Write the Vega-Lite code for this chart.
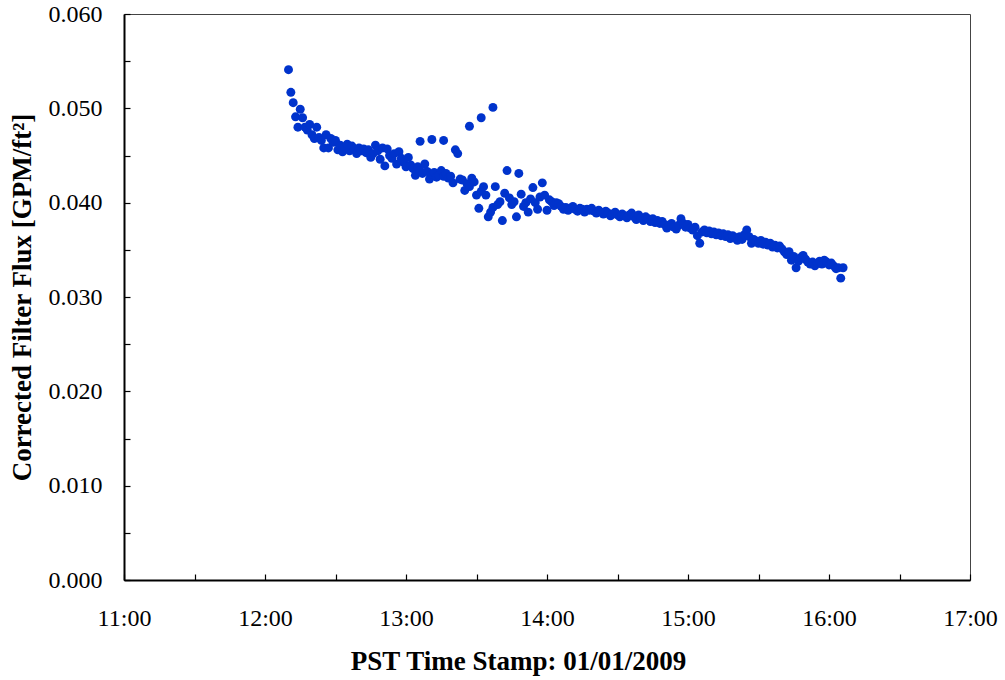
{
  "$schema": "https://vega.github.io/schema/vega-lite/v6.json",
  "width": 846,
  "height": 566,
  "autosize": {"type": "none"},
  "padding": {"left": 124, "top": 14, "right": 35, "bottom": 100},
  "background": "white",
  "config": {
    "font": "Liberation Serif",
    "view": {"stroke": "#444", "strokeWidth": 1},
    "axis": {"grid": false, "labelFont": "Liberation Serif", "titleFont": "Liberation Serif", "labelColor": "black", "titleColor": "black", "domainColor": "black", "domainWidth": 2, "tickColor": "black", "tickWidth": 1.2, "tickSize": -6, "labelFontSize": 24, "titleFontSize": 27, "titleFontWeight": "bold"}
  },
  "data": {
    "format": {"parse": {"time": "date:'%H:%M'"}},
    "values": [
      {"time": "12:10", "flux": 0.0541}, {"time": "12:11", "flux": 0.0517}, {"time": "12:12", "flux": 0.0506},
      {"time": "12:13", "flux": 0.0491}, {"time": "12:14", "flux": 0.0480}, {"time": "12:15", "flux": 0.0499},
      {"time": "12:16", "flux": 0.0490}, {"time": "12:17", "flux": 0.0480}, {"time": "12:18", "flux": 0.0477},
      {"time": "12:19", "flux": 0.0483}, {"time": "12:20", "flux": 0.0472}, {"time": "12:21", "flux": 0.0468},
      {"time": "12:22", "flux": 0.0480}, {"time": "12:23", "flux": 0.0469}, {"time": "12:24", "flux": 0.0466},
      {"time": "12:25", "flux": 0.0458}, {"time": "12:26", "flux": 0.0472}, {"time": "12:27", "flux": 0.0458},
      {"time": "12:28", "flux": 0.0468}, {"time": "12:29", "flux": 0.0464}, {"time": "12:30", "flux": 0.0466},
      {"time": "12:31", "flux": 0.0456}, {"time": "12:32", "flux": 0.0461}, {"time": "12:33", "flux": 0.0454},
      {"time": "12:34", "flux": 0.0458}, {"time": "12:35", "flux": 0.0462}, {"time": "12:36", "flux": 0.0455},
      {"time": "12:37", "flux": 0.0460}, {"time": "12:38", "flux": 0.0457}, {"time": "12:39", "flux": 0.0452},
      {"time": "12:40", "flux": 0.0458}, {"time": "12:41", "flux": 0.0455}, {"time": "12:42", "flux": 0.0457},
      {"time": "12:43", "flux": 0.0453}, {"time": "12:44", "flux": 0.0456}, {"time": "12:45", "flux": 0.0448},
      {"time": "12:46", "flux": 0.0452}, {"time": "12:47", "flux": 0.0461}, {"time": "12:48", "flux": 0.0455},
      {"time": "12:49", "flux": 0.0446}, {"time": "12:50", "flux": 0.0458}, {"time": "12:51", "flux": 0.0439},
      {"time": "12:52", "flux": 0.0457}, {"time": "12:53", "flux": 0.0450}, {"time": "12:54", "flux": 0.0447},
      {"time": "12:55", "flux": 0.0452}, {"time": "12:56", "flux": 0.0441}, {"time": "12:57", "flux": 0.0454},
      {"time": "12:58", "flux": 0.0447}, {"time": "12:59", "flux": 0.0443}, {"time": "13:00", "flux": 0.0438},
      {"time": "13:01", "flux": 0.0448}, {"time": "13:02", "flux": 0.0440}, {"time": "13:03", "flux": 0.0436},
      {"time": "13:04", "flux": 0.0429}, {"time": "13:05", "flux": 0.0438}, {"time": "13:06", "flux": 0.0465},
      {"time": "13:06", "flux": 0.0434}, {"time": "13:07", "flux": 0.0431}, {"time": "13:08", "flux": 0.0441},
      {"time": "13:09", "flux": 0.0433}, {"time": "13:10", "flux": 0.0425}, {"time": "13:11", "flux": 0.0467},
      {"time": "13:11", "flux": 0.0430}, {"time": "13:12", "flux": 0.0432}, {"time": "13:13", "flux": 0.0427},
      {"time": "13:14", "flux": 0.0429}, {"time": "13:15", "flux": 0.0434}, {"time": "13:16", "flux": 0.0466},
      {"time": "13:16", "flux": 0.0428}, {"time": "13:17", "flux": 0.0431}, {"time": "13:18", "flux": 0.0426},
      {"time": "13:19", "flux": 0.0428}, {"time": "13:20", "flux": 0.0421}, {"time": "13:21", "flux": 0.0456},
      {"time": "13:22", "flux": 0.0452}, {"time": "13:23", "flux": 0.0425}, {"time": "13:24", "flux": 0.0424},
      {"time": "13:25", "flux": 0.0413}, {"time": "13:26", "flux": 0.0420}, {"time": "13:27", "flux": 0.0481},
      {"time": "13:27", "flux": 0.0417}, {"time": "13:28", "flux": 0.0426}, {"time": "13:29", "flux": 0.0422},
      {"time": "13:30", "flux": 0.0408}, {"time": "13:31", "flux": 0.0394}, {"time": "13:32", "flux": 0.0490},
      {"time": "13:32", "flux": 0.0412}, {"time": "13:33", "flux": 0.0417}, {"time": "13:34", "flux": 0.0408},
      {"time": "13:35", "flux": 0.0385}, {"time": "13:36", "flux": 0.0390}, {"time": "13:37", "flux": 0.0501},
      {"time": "13:37", "flux": 0.0395}, {"time": "13:38", "flux": 0.0417}, {"time": "13:39", "flux": 0.0398},
      {"time": "13:40", "flux": 0.0401}, {"time": "13:41", "flux": 0.0381}, {"time": "13:42", "flux": 0.0410},
      {"time": "13:43", "flux": 0.0434}, {"time": "13:44", "flux": 0.0405}, {"time": "13:45", "flux": 0.0398},
      {"time": "13:46", "flux": 0.0401}, {"time": "13:47", "flux": 0.0385}, {"time": "13:48", "flux": 0.0431},
      {"time": "13:49", "flux": 0.0409}, {"time": "13:50", "flux": 0.0396}, {"time": "13:51", "flux": 0.0400},
      {"time": "13:52", "flux": 0.0390}, {"time": "13:53", "flux": 0.0404}, {"time": "13:54", "flux": 0.0416},
      {"time": "13:55", "flux": 0.0400}, {"time": "13:56", "flux": 0.0393}, {"time": "13:57", "flux": 0.0406},
      {"time": "13:58", "flux": 0.0421}, {"time": "13:59", "flux": 0.0408}, {"time": "14:00", "flux": 0.0392},
      {"time": "14:01", "flux": 0.0403}, {"time": "14:02", "flux": 0.0401}, {"time": "14:03", "flux": 0.0397},
      {"time": "14:04", "flux": 0.0400}, {"time": "14:05", "flux": 0.0399}, {"time": "14:06", "flux": 0.0396},
      {"time": "14:07", "flux": 0.0393}, {"time": "14:08", "flux": 0.0395}, {"time": "14:09", "flux": 0.0392},
      {"time": "14:10", "flux": 0.0394}, {"time": "14:11", "flux": 0.0396}, {"time": "14:12", "flux": 0.0393},
      {"time": "14:13", "flux": 0.0391}, {"time": "14:14", "flux": 0.0394}, {"time": "14:15", "flux": 0.0393},
      {"time": "14:16", "flux": 0.0390}, {"time": "14:17", "flux": 0.0393}, {"time": "14:18", "flux": 0.0392},
      {"time": "14:19", "flux": 0.0394}, {"time": "14:20", "flux": 0.0391}, {"time": "14:21", "flux": 0.0389},
      {"time": "14:22", "flux": 0.0392}, {"time": "14:23", "flux": 0.0390}, {"time": "14:24", "flux": 0.0388},
      {"time": "14:25", "flux": 0.0391}, {"time": "14:26", "flux": 0.0389}, {"time": "14:27", "flux": 0.0386},
      {"time": "14:28", "flux": 0.0388}, {"time": "14:29", "flux": 0.0390}, {"time": "14:30", "flux": 0.0387},
      {"time": "14:31", "flux": 0.0385}, {"time": "14:32", "flux": 0.0388}, {"time": "14:33", "flux": 0.0386},
      {"time": "14:34", "flux": 0.0384}, {"time": "14:35", "flux": 0.0387}, {"time": "14:36", "flux": 0.0389},
      {"time": "14:37", "flux": 0.0385}, {"time": "14:38", "flux": 0.0382}, {"time": "14:39", "flux": 0.0387},
      {"time": "14:40", "flux": 0.0384}, {"time": "14:41", "flux": 0.0381}, {"time": "14:42", "flux": 0.0385},
      {"time": "14:43", "flux": 0.0383}, {"time": "14:44", "flux": 0.0380}, {"time": "14:45", "flux": 0.0383},
      {"time": "14:46", "flux": 0.0379}, {"time": "14:47", "flux": 0.0381}, {"time": "14:48", "flux": 0.0378},
      {"time": "14:49", "flux": 0.0380}, {"time": "14:50", "flux": 0.0377}, {"time": "14:51", "flux": 0.0373},
      {"time": "14:52", "flux": 0.0376}, {"time": "14:53", "flux": 0.0378}, {"time": "14:54", "flux": 0.0374},
      {"time": "14:55", "flux": 0.0372}, {"time": "14:56", "flux": 0.0376}, {"time": "14:57", "flux": 0.0383},
      {"time": "14:58", "flux": 0.0378}, {"time": "14:59", "flux": 0.0374}, {"time": "15:00", "flux": 0.0377},
      {"time": "15:01", "flux": 0.0373}, {"time": "15:02", "flux": 0.0371}, {"time": "15:03", "flux": 0.0374},
      {"time": "15:04", "flux": 0.0365}, {"time": "15:05", "flux": 0.0357}, {"time": "15:06", "flux": 0.0369},
      {"time": "15:07", "flux": 0.0371}, {"time": "15:08", "flux": 0.0368}, {"time": "15:09", "flux": 0.0370},
      {"time": "15:10", "flux": 0.0367}, {"time": "15:11", "flux": 0.0369}, {"time": "15:12", "flux": 0.0366},
      {"time": "15:13", "flux": 0.0368}, {"time": "15:14", "flux": 0.0365}, {"time": "15:15", "flux": 0.0367},
      {"time": "15:16", "flux": 0.0364}, {"time": "15:17", "flux": 0.0366}, {"time": "15:18", "flux": 0.0362},
      {"time": "15:19", "flux": 0.0365}, {"time": "15:20", "flux": 0.0363}, {"time": "15:21", "flux": 0.0360},
      {"time": "15:22", "flux": 0.0364}, {"time": "15:23", "flux": 0.0361}, {"time": "15:24", "flux": 0.0366},
      {"time": "15:25", "flux": 0.0371}, {"time": "15:26", "flux": 0.0364}, {"time": "15:27", "flux": 0.0357},
      {"time": "15:28", "flux": 0.0361}, {"time": "15:29", "flux": 0.0359}, {"time": "15:30", "flux": 0.0357},
      {"time": "15:31", "flux": 0.0360}, {"time": "15:32", "flux": 0.0356}, {"time": "15:33", "flux": 0.0358},
      {"time": "15:34", "flux": 0.0355}, {"time": "15:35", "flux": 0.0357}, {"time": "15:36", "flux": 0.0353},
      {"time": "15:37", "flux": 0.0355}, {"time": "15:38", "flux": 0.0352}, {"time": "15:39", "flux": 0.0354},
      {"time": "15:40", "flux": 0.0351}, {"time": "15:41", "flux": 0.0348}, {"time": "15:42", "flux": 0.0345},
      {"time": "15:43", "flux": 0.0348}, {"time": "15:44", "flux": 0.0339}, {"time": "15:45", "flux": 0.0343},
      {"time": "15:46", "flux": 0.0331}, {"time": "15:47", "flux": 0.0338}, {"time": "15:48", "flux": 0.0342},
      {"time": "15:49", "flux": 0.0344}, {"time": "15:50", "flux": 0.0340}, {"time": "15:51", "flux": 0.0337},
      {"time": "15:52", "flux": 0.0335}, {"time": "15:53", "flux": 0.0337}, {"time": "15:54", "flux": 0.0333},
      {"time": "15:55", "flux": 0.0336}, {"time": "15:56", "flux": 0.0338}, {"time": "15:57", "flux": 0.0335},
      {"time": "15:58", "flux": 0.0339}, {"time": "15:59", "flux": 0.0337}, {"time": "16:00", "flux": 0.0334},
      {"time": "16:01", "flux": 0.0336}, {"time": "16:02", "flux": 0.0333}, {"time": "16:03", "flux": 0.0330},
      {"time": "16:04", "flux": 0.0331}, {"time": "16:05", "flux": 0.0320}, {"time": "16:06", "flux": 0.0331}
    ]
  },
  "mark": {"type": "circle", "size": 80, "color": "#0033CC", "opacity": 1},
  "encoding": {
    "x": {
      "field": "time",
      "type": "temporal",
      "scale": {"domain": [{"year": 1900, "month": 1, "date": 1, "hours": 11}, {"year": 1900, "month": 1, "date": 1, "hours": 17}], "nice": false},
      "axis": {
        "title": "PST Time Stamp: 01/01/2009",
        "values": [
          {"year": 1900, "month": 1, "date": 1, "hours": 11, "minutes": 0},
          {"year": 1900, "month": 1, "date": 1, "hours": 11, "minutes": 30},
          {"year": 1900, "month": 1, "date": 1, "hours": 12, "minutes": 0},
          {"year": 1900, "month": 1, "date": 1, "hours": 12, "minutes": 30},
          {"year": 1900, "month": 1, "date": 1, "hours": 13, "minutes": 0},
          {"year": 1900, "month": 1, "date": 1, "hours": 13, "minutes": 30},
          {"year": 1900, "month": 1, "date": 1, "hours": 14, "minutes": 0},
          {"year": 1900, "month": 1, "date": 1, "hours": 14, "minutes": 30},
          {"year": 1900, "month": 1, "date": 1, "hours": 15, "minutes": 0},
          {"year": 1900, "month": 1, "date": 1, "hours": 15, "minutes": 30},
          {"year": 1900, "month": 1, "date": 1, "hours": 16, "minutes": 0},
          {"year": 1900, "month": 1, "date": 1, "hours": 16, "minutes": 30},
          {"year": 1900, "month": 1, "date": 1, "hours": 17, "minutes": 0}
        ],
        "labelExpr": "minutes(datum.value) == 0 ? timeFormat(datum.value, '%H:%M') : ''",
        "labelPadding": 32,
        "labelFlush": false,
        "labelOverlap": false,
        "titlePadding": 18,
        "titleX": 394
      }
    },
    "y": {
      "field": "flux",
      "type": "quantitative",
      "scale": {"domain": [0, 0.06], "nice": false, "zero": true},
      "axis": {
        "title": "Corrected Filter Flux [GPM/ft²]",
        "values": [0, 0.005, 0.01, 0.015, 0.02, 0.025, 0.03, 0.035, 0.04, 0.045, 0.05, 0.055, 0.06],
        "labelExpr": "round(datum.value * 1000) % 10 == 0 ? format(datum.value, '.3f') : ''",
        "labelPadding": 28,
        "labelFlush": false,
        "labelOverlap": false,
        "titlePadding": 12
      }
    }
  }
}
